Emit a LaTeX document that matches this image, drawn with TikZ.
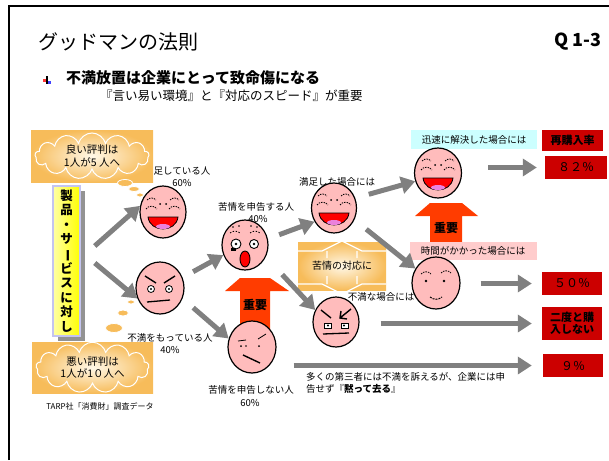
\documentclass[tikz,border=0pt]{standalone}
\usepackage{fontspec}
\setmainfont{Noto Sans CJK JP}
\usepackage{tikz}
\usetikzlibrary{shapes.geometric,shapes.symbols,arrows.meta}

\definecolor{facepink}{RGB}{255,188,188}
\definecolor{tonguepink}{RGB}{235,130,220}
\definecolor{arrowgray}{RGB}{128,128,128}
\definecolor{boxred}{RGB}{204,0,0}
\definecolor{hotorange}{RGB}{255,60,0}
\definecolor{cloudorange}{RGB}{247,188,90}
\definecolor{cloudlight}{RGB}{255,248,232}
\definecolor{quickcyan}{RGB}{204,255,255}
\definecolor{slowpink}{RGB}{255,204,204}
\definecolor{prodyellow}{RGB}{255,255,0}
\definecolor{prodedge}{RGB}{196,196,240}

% face parts, drawn round the centre of a face node
\newcommand{\laughface}[1]{%
  \begin{scope}[shift={(#1.center)}]
    \draw[line width=0.8pt, dash pattern=on 1.5pt off 1pt] (-16,-12) to[bend left=50] (-7,-12) (7,-12) to[bend left=50] (16,-12);
    \draw[line width=0.8pt, dash pattern=on 1.5pt off 1pt] (-17,-3) to[bend left=60] (-6,-3) (6,-3) to[bend left=60] (17,-3);
    \fill (-3,-8) circle (1) (3,-8) circle (1);
    \filldraw[fill=red, line width=0.8pt] (-15,5) .. controls (-13,21) and (13,21) .. (15,5) -- cycle;
    \fill[tonguepink] (0,14.5) ellipse [x radius=7, y radius=2.5];
  \end{scope}}
\newcommand{\angryface}[1]{%
  \begin{scope}[shift={(#1.center)}]
    \draw[line width=1.4pt] (-15,-12) -- (-4,-5) (15,-12) -- (4,-5);
    \filldraw[fill=white, line width=0.8pt] (-9,1) circle (3.5) (9,1) circle (3.5);
    \fill (-9,1) circle (1.2) (9,1) circle (1.2);
    \draw[line width=1.3pt] (-13,14) -- (10,12);
  \end{scope}}
\newcommand{\furyface}[1]{%
  \begin{scope}[shift={(#1.center)}]
    \draw[line width=1.4pt] (-15,-12) -- (-5,-4) (15,-13) -- (4,-4) (5,-11) -- (4,-4) -- (11,-3);
    \filldraw[fill=white, line width=0.7pt] (-12,1) rectangle (-5,6) (5,1) rectangle (12,6);
    \fill (-8,3.5) circle (1.2) (8,3.5) circle (1.2);
    \draw[line width=1.3pt] (-13,12) -- (13,11);
  \end{scope}}
\newcommand{\shockface}[1]{%
  \begin{scope}[shift={(#1.center)}]
    \draw[line width=0.8pt, dash pattern=on 1.5pt off 1.5pt] (-15,-12) to[bend left=40] (-5,-12) (5,-12) to[bend left=40] (15,-12);
    \fill (-12,-18) circle (0.8) (-6,-19) circle (0.8) (6,-19) circle (0.8) (12,-18) circle (0.8);
    \filldraw[fill=white, line width=0.9pt] (-9,-1) circle (5) (9,-1) circle (4.5);
    \fill (-9,-1) circle (1.3) (9,-1) circle (1.3);
    \fill (-14,3) rectangle (-9,6);
    \filldraw[fill=red, line width=0.9pt] (0,14) ellipse [x radius=5, y radius=8];
  \end{scope}}
\newcommand{\sulkface}[1]{%
  \begin{scope}[shift={(#1.center)}]
    \draw[line width=0.8pt] (-14,-6) -- (-6,-7) (6,-8) -- (14,-13);
    \fill (-11,-1) circle (1) (-6,-1) circle (0.8) (7,-1) circle (1);
    \draw[line width=1.4pt] (-9,8) -- (8,16);
  \end{scope}}
\newcommand{\calmface}[1]{%
  \begin{scope}[shift={(#1.center)}]
    \draw[line width=0.8pt, dash pattern=on 1.5pt off 1pt] (-15,-9) to[bend left=50] (-5,-9) (5,-10) to[bend left=50] (15,-10);
    \fill (-10,-2) circle (1.4) (8,-2) circle (1.4);
    \draw[line width=1pt, dash pattern=on 2pt off 1pt] (-6,14) to[bend right=40] (6,14);
  \end{scope}}

\begin{document}
\begin{tikzpicture}[x=1pt, y=-1pt,
    face/.style={ellipse, draw, line width=1.2pt, fill=facepink, inner sep=0pt, minimum width=46, minimum height=52},
    garrow/.style={draw=arrowgray, line width=5pt, -{Triangle[length=14pt,width=17pt]}},
    redbox/.style={fill=boxred, text=black, inner sep=0pt, align=center, minimum width=60, minimum height=23},
    lbl/.style={font=\fontsize{9.5}{11}\selectfont, inner sep=0pt},
    puff/.style={ellipse, draw=white, line width=0.8pt, fill=cloudorange, inner sep=0pt},
    talkbg/.style={rectangle, inner color=cloudlight, outer color=cloudorange, inner sep=0pt},
    talk/.style={cloud, cloud puffs=13, aspect=2.6, draw=white, line width=1pt, inner sep=0pt, align=center, font=\fontsize{10.5}{12.5}\selectfont}]
  \useasboundingbox (0,0) rectangle (609,460);
  \draw[line width=1.5pt] (9,460) -- (9,6) -- (609,6);

  % heading
  \node[anchor=west, inner sep=0pt, font=\fontsize{20}{22}\selectfont] (title) at (38,42) {グッドマンの法則};
  \node[anchor=east, inner sep=0pt, font=\bfseries\fontsize{18}{19}\selectfont] (qno) at (602,42) {Q 1-3};
  \begin{scope}[shift={(47,80)}]
    \fill[red!80] (-4,-1) rectangle (-1,2);
    \fill[blue!75] (1,1) rectangle (4,4);
    \fill[yellow!80!orange] (-1,2) rectangle (1,4);
    \draw[line width=1.2pt] (0,-4) -- (0,4);
  \end{scope}
  \node[anchor=west, inner sep=0pt, font=\bfseries\fontsize{15}{17}\selectfont] (headline) at (66,78) {不満放置は企業にとって致命傷になる};
  \node[anchor=west, inner sep=0pt, font=\fontsize{12.5}{14}\selectfont] (subline) at (100,96) {『言い易い環境』と『対応のスピード』が重要};

  % word of mouth
  \node[talkbg, minimum width=122, minimum height=52] (goodbg) at (92,156) {};
  \node[talk, minimum width=114, minimum height=46] (goodword) at (92,156) {良い評判は\\1人が5 人へ};
  \node[puff, minimum width=15, minimum height=7] (goodpuff1) at (125,183) {};
  \node[puff, minimum width=11, minimum height=5] (goodpuff2) at (134,189) {};
  \node[puff, minimum width=7, minimum height=4] (goodpuff3) at (140,195) {};
  \node[talkbg, minimum width=121, minimum height=51] (badbg) at (92.5,367.5) {};
  \node[talk, minimum width=113, minimum height=45] (badword) at (92.5,367.5) {悪い評判は\\1人が1０人へ};
  \node[puff, minimum width=17, minimum height=9] (badpuff1) at (114,328) {};
  \node[puff, minimum width=11, minimum height=6] (badpuff2) at (123,313) {};
  \node[puff, minimum width=7, minimum height=4] (badpuff3) at (131,302) {};

  % product column
  \node[fill=gray!85, minimum width=27, minimum height=150, inner sep=0pt] (prodshade) at (71.5,266) {};
  \node[draw=prodedge, line width=1.5pt, left color=prodyellow!35!white, right color=prodyellow,
        minimum width=27, minimum height=150, inner sep=0pt, align=center,
        font=\bfseries\fontsize{12.5}{14.6}\selectfont] (prod) at (66.5,261)
        {製\\品\\・\\サ\\\rotatebox[origin=c]{-90}{ー}\\ビ\\ス\\に\\対\\し};

  % labels under the faces
  \node[lbl] (satlabel) at (182,171) {足している人};
  \node[lbl] (satpct) at (182,183) {60\%};
  \node[lbl] (unsatlabel) at (170,338) {不満をもっている人};
  \node[lbl] (unsatpct) at (170,350) {40\%};
  \node[lbl] (claimlabel) at (256,207) {苦情を申告する人};
  \node[lbl] (claimpct) at (258,219) {40\%};
  \node[lbl] (silentlabel) at (251,390) {苦情を申告しない人};
  \node[lbl] (silentpct) at (250,403) {60\%};
  \node[lbl] (oklabel) at (337,182) {満足した場合には};
  \node[lbl] (nglabel) at (381,297) {不満な場合には};

  % handling box
  \node[talkbg, minimum width=88, minimum height=48] (handling) at (342,266) {};
  \draw[white, line width=1.3pt] (298,251) -- (322,251) -- (342,241) -- (362,251) -- (386,251)
    (327,251) -- (327,258) (357,251) -- (357,258)
    (298,284) -- (322,284) -- (342,294) -- (362,284) -- (386,284)
    (327,276) -- (327,284) (357,276) -- (357,284);
  \node[lbl, font=\fontsize{10}{11}\selectfont] (handlingtext) at (handling.center) {苦情の対応に};

  % important arrows
  \fill[hotorange] (240,278) -- (270,278) -- (289,291) -- (270,291) -- (270,335) -- (240,335) -- (240,291) -- (225,291) -- cycle;
  \node[inner sep=0pt, font=\bfseries\fontsize{12}{13}\selectfont] (keyone) at (255,305) {重要};
  \fill[hotorange] (430,203) -- (462,203) -- (478,216) -- (462,216) -- (462,242) -- (430,242) -- (430,216) -- (415,216) -- cycle;
  \node[inner sep=0pt, font=\bfseries\fontsize{12}{13}\selectfont] (keytwo) at (446,228) {重要};

  % case labels and results
  \node[lbl, fill=quickcyan, minimum width=126, minimum height=19] (quicklabel) at (474,139.5) {迅速に解決した場合には};
  \node[lbl, fill=slowpink, minimum width=127, minimum height=18] (slowlabel) at (473,251) {時間がかかった場合には};
  \node[redbox, minimum width=61, minimum height=21, font=\bfseries\fontsize{11}{12}\selectfont] (rebuy) at (572.5,140.5) {再購入率};
  \node[redbox, minimum width=62, font=\fontsize{12}{13}\selectfont] (rate82) at (576,167.5) {８２％};
  \node[redbox, font=\fontsize{12}{13}\selectfont] (rate50) at (572,283.5) {５０％};
  \node[redbox, minimum height=33, font=\bfseries\fontsize{11}{12.5}\selectfont] (neverbuy) at (572,323.5) {二度と購\\入しない};
  \node[redbox, font=\fontsize{12}{13}\selectfont] (rate9) at (573,365.5) {９％};

  % faces
  \node[face] (satisfied) at (163,212) {};
  \node[face, minimum width=48] (unsatisfied) at (160,288) {};
  \node[face, minimum height=50] (claimer) at (245,245) {};
  \node[face, minimum width=48] (silent) at (252,347) {};
  \node[face, minimum width=45, minimum height=50] (handledok) at (334,208) {};
  \node[face, minimum height=50] (handledng) at (336,322) {};
  \node[face, minimum width=47, minimum height=50] (quickfix) at (438,173) {};
  \node[face, minimum width=48] (slowfix) at (436,283) {};
  \laughface{satisfied}
  \angryface{unsatisfied}
  \shockface{claimer}
  \sulkface{silent}
  \laughface{handledok}
  \furyface{handledng}
  \laughface{quickfix}
  \calmface{slowfix}

  % flow
  \draw[garrow] ([shift={(14,-15)}]prod.east) -- (satisfied.165);
  \draw[garrow] ([shift={(14,2)}]prod.east) -- (unsatisfied.205);
  \draw[garrow, shorten <=12pt] (unsatisfied.25) -- (claimer.205);
  \draw[garrow, shorten <=14pt] (unsatisfied.335) -- (silent.160);
  \draw[garrow, shorten <=12pt] (claimer.15) -- (handledok.215);
  \draw[garrow, shorten <=24pt] (claimer.330) -- (handledng.150);
  \draw[garrow, shorten <=14pt] (handledok.25) -- (quickfix.200);
  \draw[garrow, shorten <=15pt] (handledok.330) -- (slowfix.145);
  \draw[garrow, shorten <=26pt] (quickfix.east |- rate82.west) -- ([xshift=-8pt]rate82.west);
  \draw[garrow, shorten <=20pt] (slowfix.east |- rate50.west) -- ([xshift=-10pt]rate50.west);
  \draw[garrow, shorten <=21pt] (handledng.east |- neverbuy.west) -- ([xshift=-10pt]neverbuy.west);
  \draw[garrow, shorten <=17pt] (silent.east |- rate9.west) -- ([xshift=-11pt]rate9.west);

  \node[anchor=north west, align=left, inner sep=0pt, font=\fontsize{9.5}{12}\selectfont] (thirdparty) at (306,372)
    {多くの第三者には不満を訴えるが、企業には申\\告せず『\textbf{黙って去る}』};
  \node[inner sep=0pt, font=\fontsize{8}{9}\selectfont] (source) at (100,406) {TARP社「消費財」調査データ};
\end{tikzpicture}
\end{document}
